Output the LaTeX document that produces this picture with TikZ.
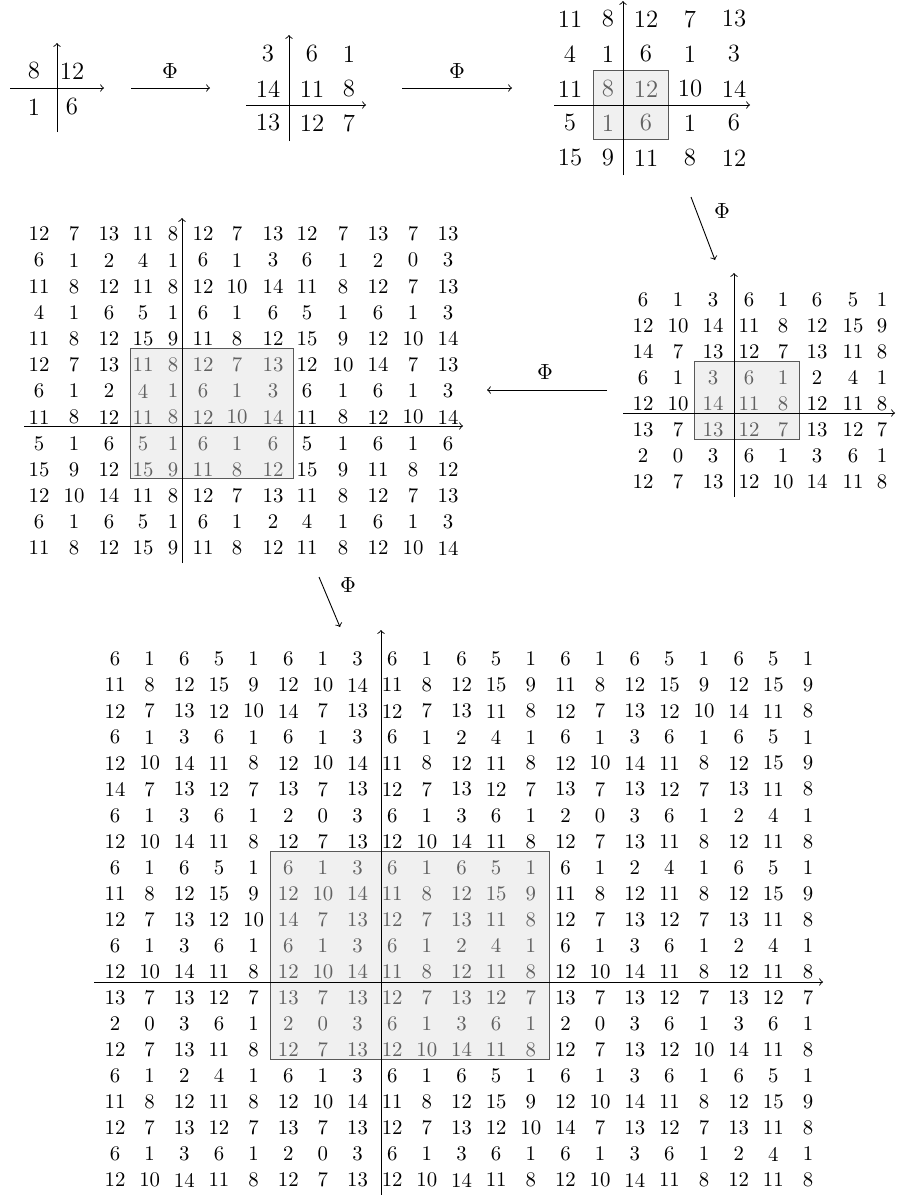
\documentclass[tikz,border=0pt]{standalone}
\usepackage{fontspec}
\begin{document}
\begin{tikzpicture}[x=0.5pt,y=-0.5pt,
  big/.style={font=\fontsize{12.4}{14}\selectfont, inner sep=0pt},
  small/.style={font=\fontsize{10.4}{12}\selectfont, inner sep=0pt},
  philabel/.style={font=\fontsize{10.95}{13}\selectfont, inner sep=0pt},
  axisline/.style={->, line width=0.45pt},
  hbox/.style={fill=black!6, draw=black!65, line width=0.5pt},
  conn/.style={->, line width=0.45pt}]
\colorlet{intext}{black!62}
\useasboundingbox (0,0) rectangle (899,1195);

% ---------- highlighted boxes ----------
\draw[hbox] (593,70) rectangle (668,139);
\draw[hbox] (694,361) rectangle (799,439);
\draw[hbox] (130,348) rectangle (293,478);
\draw[hbox] (270,851) rectangle (549,1059);

% ---------- axes ----------
\coordinate (A-vb) at (57,132);  \coordinate (A-vt) at (57,43);
\coordinate (A-hl) at (10,88);   \coordinate (A-hr) at (104,88);
\coordinate (B-vb) at (289,141); \coordinate (B-vt) at (289,35);
\coordinate (B-hl) at (246,105); \coordinate (B-hr) at (366,105);
\coordinate (C-vb) at (623,175); \coordinate (C-vt) at (623,1);
\coordinate (C-hl) at (554,105); \coordinate (C-hr) at (750,105);
\coordinate (D-vb) at (734,497); \coordinate (D-vt) at (734,273);
\coordinate (D-hl) at (623,413); \coordinate (D-hr) at (895,413);
\coordinate (E-vb) at (182,563); \coordinate (E-vt) at (182,218);
\coordinate (E-hl) at (24,426);  \coordinate (E-hr) at (463,426);
\coordinate (F-vb) at (381,1195); \coordinate (F-vt) at (381,630);
\coordinate (F-hl) at (94,982);  \coordinate (F-hr) at (823,982);
\foreach \g in {A,B,C,D,E,F}{
  \draw[axisline] (\g-vb) -- (\g-vt);
  \draw[axisline] (\g-hl) -- (\g-hr);
}

% ---------- grid A (2x2) ----------
\foreach \row [count=\ri] in {{8,12},{1,6}}{
  \foreach \v [count=\ci] in \row {
    \pgfmathsetmacro\xx{{34,72}[\ci-1]}
    \pgfmathsetmacro\yy{{71,107}[\ri-1]}
    \node[big] (A-\ri-\ci) at (\xx,\yy) {\v};
  }
}

% ---------- grid B (3x3) ----------
\foreach \row [count=\ri] in {{3,6,1},{14,11,8},{13,12,7}}{
  \foreach \v [count=\ci] in \row {
    \pgfmathsetmacro\xx{{268,312,349}[\ci-1]}
    \pgfmathsetmacro\yy{{54,89,123}[\ri-1]}
    \node[big] (B-\ri-\ci) at (\xx,\yy) {\v};
  }
}

% ---------- grid C (5x5) ----------
\foreach \row [count=\ri] in {
  {11,8,12,7,13},
  {4,1,6,1,3},
  {11,8,12,10,14},
  {5,1,6,1,6},
  {15,9,11,8,12}}{
  \foreach \v [count=\ci] in \row {
    \pgfmathsetmacro\xx{{570,608,646,690,734}[\ci-1]}
    \pgfmathsetmacro\yy{{19,54,89,123,158}[\ri-1]}
    \pgfmathtruncatemacro\ing{(\ri>2)*(\ri<5)*(\ci>1)*(\ci<4)}
    \ifnum\ing=1 \def\tc{intext}\else\def\tc{black}\fi
    \node[big,text=\tc] (C-\ri-\ci) at (\xx,\yy) {\v};
  }
}

% ---------- grid D (8x8) ----------
\foreach \row [count=\ri] in {
  {6,1,3,6,1,6,5,1},
  {12,10,14,11,8,12,15,9},
  {14,7,13,12,7,13,11,8},
  {6,1,3,6,1,2,4,1},
  {12,10,14,11,8,12,11,8},
  {13,7,13,12,7,13,12,7},
  {2,0,3,6,1,3,6,1},
  {12,7,13,12,10,14,11,8}}{
  \foreach \v [count=\ci] in \row {
    \pgfmathsetmacro\xx{{643,678,713,749,783,817,853,882}[\ci-1]}
    \pgfmathsetmacro\yy{300+25.9*(\ri-1)}
    \pgfmathtruncatemacro\ing{(\ri>3)*(\ri<7)*(\ci>2)*(\ci<6)}
    \ifnum\ing=1 \def\tc{intext}\else\def\tc{black}\fi
    \node[small,text=\tc] (D-\ri-\ci) at (\xx,\yy) {\v};
  }
}

% ---------- grid E (13x13) ----------
\foreach \row [count=\ri] in {
  {12,7,13,11,8,12,7,13,12,7,13,7,13},
  {6,1,2,4,1,6,1,3,6,1,2,0,3},
  {11,8,12,11,8,12,10,14,11,8,12,7,13},
  {4,1,6,5,1,6,1,6,5,1,6,1,3},
  {11,8,12,15,9,11,8,12,15,9,12,10,14},
  {12,7,13,11,8,12,7,13,12,10,14,7,13},
  {6,1,2,4,1,6,1,3,6,1,6,1,3},
  {11,8,12,11,8,12,10,14,11,8,12,10,14},
  {5,1,6,5,1,6,1,6,5,1,6,1,6},
  {15,9,12,15,9,11,8,12,15,9,11,8,12},
  {12,10,14,11,8,12,7,13,11,8,12,7,13},
  {6,1,6,5,1,6,1,2,4,1,6,1,3},
  {11,8,12,15,9,11,8,12,11,8,12,10,14}}{
  \foreach \v [count=\ci] in \row {
    \pgfmathsetmacro\xx{{39,74,109,143,173,203,237,273,307,343,378,413,448}[\ci-1]}
    \pgfmathsetmacro\yy{234+26.17*(\ri-1)}
    \pgfmathtruncatemacro\ing{(\ri>5)*(\ri<11)*(\ci>3)*(\ci<9)}
    \ifnum\ing=1 \def\tc{intext}\else\def\tc{black}\fi
    \node[small,text=\tc] (E-\ri-\ci) at (\xx,\yy) {\v};
  }
}

% ---------- grid F (21x21) ----------
\foreach \row [count=\ri] in {
  {6,1,6,5,1,6,1,3,6,1,6,5,1,6,1,6,5,1,6,5,1},
  {11,8,12,15,9,12,10,14,11,8,12,15,9,11,8,12,15,9,12,15,9},
  {12,7,13,12,10,14,7,13,12,7,13,11,8,12,7,13,12,10,14,11,8},
  {6,1,3,6,1,6,1,3,6,1,2,4,1,6,1,3,6,1,6,5,1},
  {12,10,14,11,8,12,10,14,11,8,12,11,8,12,10,14,11,8,12,15,9},
  {14,7,13,12,7,13,7,13,12,7,13,12,7,13,7,13,12,7,13,11,8},
  {6,1,3,6,1,2,0,3,6,1,3,6,1,2,0,3,6,1,2,4,1},
  {12,10,14,11,8,12,7,13,12,10,14,11,8,12,7,13,11,8,12,11,8},
  {6,1,6,5,1,6,1,3,6,1,6,5,1,6,1,2,4,1,6,5,1},
  {11,8,12,15,9,12,10,14,11,8,12,15,9,11,8,12,11,8,12,15,9},
  {12,7,13,12,10,14,7,13,12,7,13,11,8,12,7,13,12,7,13,11,8},
  {6,1,3,6,1,6,1,3,6,1,2,4,1,6,1,3,6,1,2,4,1},
  {12,10,14,11,8,12,10,14,11,8,12,11,8,12,10,14,11,8,12,11,8},
  {13,7,13,12,7,13,7,13,12,7,13,12,7,13,7,13,12,7,13,12,7},
  {2,0,3,6,1,2,0,3,6,1,3,6,1,2,0,3,6,1,3,6,1},
  {12,7,13,11,8,12,7,13,12,10,14,11,8,12,7,13,12,10,14,11,8},
  {6,1,2,4,1,6,1,3,6,1,6,5,1,6,1,3,6,1,6,5,1},
  {11,8,12,11,8,12,10,14,11,8,12,15,9,12,10,14,11,8,12,15,9},
  {12,7,13,12,7,13,7,13,12,7,13,12,10,14,7,13,12,7,13,11,8},
  {6,1,3,6,1,2,0,3,6,1,3,6,1,6,1,3,6,1,2,4,1},
  {12,10,14,11,8,12,7,13,12,10,14,11,8,12,10,14,11,8,12,11,8}}{
  \foreach \v [count=\ci] in \row {
    \pgfmathsetmacro\xx{115+34.65*(\ci-1)}
    \pgfmathsetmacro\yy{659+26.05*(\ri-1)}
    \pgfmathtruncatemacro\ing{(\ri>8)*(\ri<17)*(\ci>5)*(\ci<14)}
    \ifnum\ing=1 \def\tc{intext}\else\def\tc{black}\fi
    \node[small,text=\tc] (F-\ri-\ci) at (\xx,\yy) {\v};
  }
}

% ---------- Phi connectors ----------
\coordinate (ab1) at (131,88);  \coordinate (ab2) at (210,88);
\coordinate (bc1) at (402,88);  \coordinate (bc2) at (512,88);
\coordinate (cd1) at (691,197); \coordinate (cd2) at (715,260);
\coordinate (de1) at (607,390); \coordinate (de2) at (487,390);
\coordinate (ef1) at (319,577); \coordinate (ef2) at (340,627);
\draw[conn] (ab1) -- (ab2);
\draw[conn] (bc1) -- (bc2);
\draw[conn] (cd1) -- (cd2);
\draw[conn] (de1) -- (de2);
\draw[conn] (ef1) -- (ef2);
\node[philabel] (phi1) at (170,71) {$\Phi$};
\node[philabel] (phi2) at (457,71) {$\Phi$};
\node[philabel] (phi3) at (722,211) {$\Phi$};
\node[philabel] (phi4) at (545,372) {$\Phi$};
\node[philabel] (phi5) at (348,585) {$\Phi$};
\end{tikzpicture}
\end{document}
